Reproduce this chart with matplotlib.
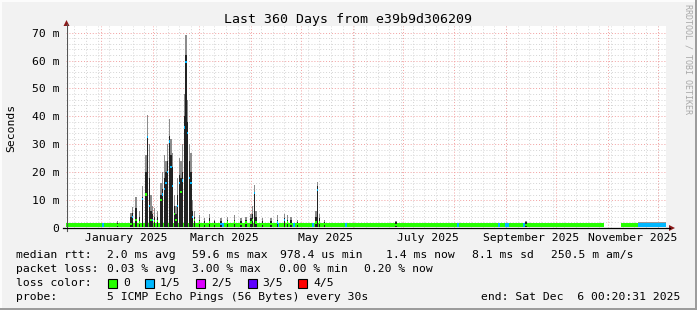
import numpy as np
import pandas as pd
import matplotlib
matplotlib.use('Agg')
import matplotlib.pyplot as plt
import matplotlib.dates as mdates
from matplotlib.patches import Rectangle, Polygon

plt.rcParams['font.family'] = 'DejaVu Sans Mono'

# time range of the graph
start = pd.Timestamp('2024-12-11 00:20:31')
end = pd.Timestamp('2025-12-06 00:20:31')

# latency spikes (ms): outer smoke top, dense smoke top, median, loss class
spike_dates = ['2025-01-11', '2025-01-19', '2025-01-20', '2025-01-22', '2025-01-24',
               '2025-01-26', '2025-01-28', '2025-01-29', '2025-01-30', '2025-01-31',
               '2025-02-01', '2025-02-02', '2025-02-04', '2025-02-06', '2025-02-07',
               '2025-02-08', '2025-02-09', '2025-02-10', '2025-02-11', '2025-02-12',
               '2025-02-13', '2025-02-14', '2025-02-15', '2025-02-16', '2025-02-17',
               '2025-02-18', '2025-02-19', '2025-02-20', '2025-02-21', '2025-02-22',
               '2025-02-23', '2025-02-24', '2025-02-25', '2025-02-26',
               '2025-03-01', '2025-03-04', '2025-03-07', '2025-03-10', '2025-03-14',
               '2025-03-18', '2025-03-22', '2025-03-26', '2025-03-29', '2025-04-01',
               '2025-04-02', '2025-04-03', '2025-04-04', '2025-04-08', '2025-04-13',
               '2025-04-17', '2025-04-21', '2025-04-23', '2025-04-25', '2025-04-29',
               '2025-05-10', '2025-05-11', '2025-05-12', '2025-05-15', '2025-06-27',
               '2025-09-13']
spike_max = [2.4, 5.5, 7.5, 11, 6,
             15, 26, 40.5, 30, 12,
             8, 7, 6, 16, 20,
             26, 24, 30, 39, 32,
             27, 12, 8, 18, 25,
             24, 30, 48, 69, 46,
             30, 27, 10, 6,
             4.5, 3.5, 5, 3, 3.5,
             4, 4.5, 3.5, 4, 5,
             8, 15.5, 6, 3.5, 3.5,
             4.5, 5, 4.5, 4, 3,
             6, 16.5, 5, 3, 2.6,
             2.6]
spike_dark = [1.8, 4, 5.5, 7, 4,
              11, 20, 33, 18, 6,
              5, 4, 4, 12, 14,
              18, 20, 24, 33, 26,
              22, 8, 5, 12, 19,
              18, 20, 40, 62, 38,
              24, 20, 6, 4,
              3, 2.5, 3.5, 2.5, 2.5,
              3, 3, 2.5, 3, 3.5,
              5, 13, 4, 2.5, 2.5,
              3, 3.5, 3, 3, 2.2,
              4, 15, 3.5, 2.2, 2.2,
              2.2]
spike_median = [1.2, 1.5, 4, 3, 2,
                10.5, 12, 32.5, 8, 3,
                3, 2.5, 2.5, 10, 12,
                14, 16, 20, 31, 22,
                15, 5, 3, 8, 16,
                13, 17, 36, 59.6, 34,
                18, 16, 4, 3,
                2, 1.5, 2, 1.5, 1.5,
                2, 2, 1.5, 2, 2,
                3, 12.5, 2, 1.5, 1.5,
                2, 3, 2, 1.5, 1.5,
                2, 13.6, 2, 1.5, 1.2,
                1.2]
spike_loss = [0, 0, 1, 0, 0,
              1, 0, 1, 1, 0,
              1, 0, 0, 0, 1,
              1, 1, 1, 1, 1,
              1, 0, 0, 1, 1,
              0, 1, 1, 1, 1,
              1, 1, 1, 0,
              0, 0, 0, 0, 1,
              0, 0, 0, 0, 0,
              0, 1, 0, 0, 0,
              1, 1, 0, 0, 0,
              0, 1, 0, 0, 0,
              0]

# median band segments (no data between Oct 30 and Nov 9)
band_starts = ['2024-12-11 00:20', '2025-11-09', '2025-11-19']
band_ends = ['2025-10-30', '2025-11-19', '2025-12-06 00:20']
band_loss = [0, 0, 1]
band_smoke = [1.7, 1.7, 2.3]

# short 1/5 loss patches inside the green band
blue_days = ['2025-01-02', '2025-03-15', '2025-04-17', '2025-04-27', '2025-05-08',
             '2025-05-28', '2025-08-03', '2025-08-28', '2025-09-01', '2025-09-02',
             '2025-09-12']

loss_colors = ['#26ff00', '#00b8ff', '#dd00ff', '#5e00ff', '#ff0000']
loss_labels = ['0', '1/5', '2/5', '3/5', '4/5']

y_ticks = [0, 10, 20, 30, 40, 50, 60, 70]
y_labels = ['0', '10 m', '20 m', '30 m', '40 m', '50 m', '60 m', '70 m']
x_label_dates = ['2025-01-16', '2025-03-16', '2025-05-16', '2025-07-16', '2025-09-16', '2025-11-16']
x_labels = ['January 2025', 'March 2025', 'May 2025', 'July 2025', 'September 2025', 'November 2025']

W, H = 697, 310
fig = plt.figure(figsize=(W / 100, H / 100), dpi=100, facecolor='#f2f2f2')
ax = fig.add_axes([66 / W, 82 / H, 600 / W, 202 / H], facecolor='white')

x0, x1 = mdates.date2num(start), mdates.date2num(end)
ax.set_xlim(x0, x1)
ax.set_ylim(0, 72.4)

# grid
for d in pd.date_range('2024-12-16', end, freq='7D'):
    ax.axvline(mdates.date2num(d), color='#d4d4d4', lw=0.7, ls=(0, (1, 2)), zorder=0)
for v in np.arange(2, 72, 2):
    if v % 10:
        ax.axhline(v, color='#d4d4d4', lw=0.7, ls=(0, (1, 2)), zorder=0)
for d in pd.date_range('2025-01-01', end, freq='MS'):
    ax.axvline(mdates.date2num(d), color='#f2a0a0', lw=0.7, ls=(0, (1, 2)), zorder=1)
for v in y_ticks[1:]:
    ax.axhline(v, color='#f2a0a0', lw=0.7, ls=(0, (1, 2)), zorder=1)

# median band
for s, e, l, sm in zip(band_starts, band_ends, band_loss, band_smoke):
    xs, xe = mdates.date2num(pd.Timestamp(s)), mdates.date2num(pd.Timestamp(e))
    ax.bar(xs, sm - 0.45, width=xe - xs, bottom=0.45, align='edge', color='#9a9a9a', lw=0, zorder=2)
    ax.bar(xs, 1.25, width=xe - xs, bottom=0.45, align='edge', color=loss_colors[l], lw=0, zorder=3)
bx = mdates.date2num(pd.to_datetime(blue_days))
ax.bar(bx, 1.25, width=1.2, bottom=0.45, color=loss_colors[1], lw=0, zorder=3)

# spikes
sx = mdates.date2num(pd.to_datetime(spike_dates))
smax = np.array(spike_max)
sdark = np.array(spike_dark)
smed = np.array(spike_median)
ax.bar(sx, smax - 0.45, width=0.75, bottom=0.45, color='#8c8c8c', lw=0, zorder=4)
ax.bar(sx, sdark - 0.45, width=0.75, bottom=0.45, color='#222222', lw=0, zorder=5)
ax.bar(sx, 0.8, width=0.75, bottom=smed - 0.4, color=[loss_colors[l] for l in spike_loss], lw=0, zorder=6)

ax.set_yticks(y_ticks, y_labels)
ax.set_xticks(mdates.date2num(pd.to_datetime(x_label_dates)), x_labels)
ax.tick_params(length=0, labelsize=8.2, colors='#000000')
ax.tick_params(axis='y', pad=5)
ax.tick_params(axis='x', pad=3.5)
for sp in ax.spines.values():
    sp.set_visible(False)

# overlay in pixel coordinates for frame, axes arrows and legend
ov = fig.add_axes([0, 0, 1, 1], facecolor='none')
ov.set_xlim(0, W)
ov.set_ylim(H, 0)
ov.axis('off')
ov.add_patch(Rectangle((0, 0), W, 1.5, color='#fcfcfc', lw=0))
ov.add_patch(Rectangle((0, 0), 1.5, H, color='#fcfcfc', lw=0))
ov.add_patch(Rectangle((0, H - 2), W, 2, color='#9c9c9c', lw=0))
ov.add_patch(Rectangle((W - 2, 0), 2, H, color='#9c9c9c', lw=0))

ov.plot([66.5, 66.5], [231, 24], color='#555555', lw=0.8)
ov.plot([63, 670], [228, 228], color='#000000', lw=0.9)
ov.add_patch(Polygon([[63.5, 26], [69.5, 26], [66.5, 20]], color='#8b1a1a', lw=0))
ov.add_patch(Polygon([[669, 225], [669, 231], [675, 228]], color='#8b1a1a', lw=0))

fs = 8.2
ov.text(348, 19, 'Last 360 Days from e39b9d306209', ha='center', va='center', fontsize=9.5)
ov.text(11, 128, 'Seconds', rotation=90, ha='center', va='center', fontsize=fs)
ov.text(688, 4, 'RRDTOOL / TOBI OETIKER', rotation=270, ha='center', va='top',
        fontsize=6, color='#a8a8a8')

rows = [
    [(16, 'median rtt:'), (107, '2.0 ms avg'), (192, '59.6 ms max'), (280, '978.4 us min'),
     (386, '1.4 ms now'), (472, '8.1 ms sd'), (551, '250.5 m am/s')],
    [(16, 'packet loss:'), (107, '0.03 % avg'), (192, '3.00 % max'), (279, '0.00 % min'),
     (364, '0.20 % now')],
]
for yy, row in zip([255, 269], rows):
    for xx, t in row:
        ov.text(xx, yy, t, ha='left', va='center', fontsize=fs)

ov.text(16, 283, 'loss color:', ha='left', va='center', fontsize=fs)
box_x = [108, 145, 196, 248, 298]
lab_x = [123, 160, 211, 262, 313]
for bxx, lxx, c, lab in zip(box_x, lab_x, loss_colors, loss_labels):
    ov.add_patch(Rectangle((bxx, 278.5), 8.5, 9, facecolor=c, edgecolor='#000000', lw=0.8))
    ov.text(lxx, 283, lab, ha='left', va='center', fontsize=fs)

ov.text(16, 297, 'probe:', ha='left', va='center', fontsize=fs)
ov.text(107, 297, '5 ICMP Echo Pings (56 Bytes) every 30s', ha='left', va='center', fontsize=fs)
ov.text(680, 297, 'end: Sat Dec  6 00:20:31 2025', ha='right', va='center', fontsize=fs)

fig.savefig('out.png', dpi=100, facecolor=fig.get_facecolor())
